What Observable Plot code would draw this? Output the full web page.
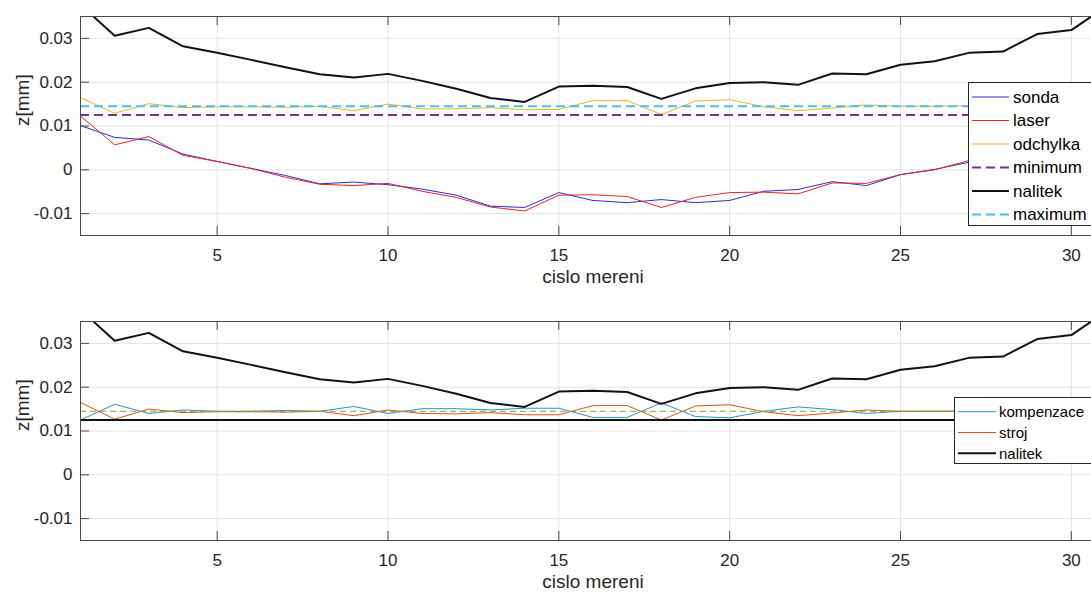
<!DOCTYPE html>
<html>
<head>
<meta charset="utf-8">
<script src="https://cdn.jsdelivr.net/npm/d3@7"></script>
<script src="https://cdn.jsdelivr.net/npm/@observablehq/plot@0.6"></script>
<style>
  html, body { margin: 0; padding: 0; background: #fff; overflow: hidden; width: 1091px; height: 592px; }
  #chart { width: 1125px; }
  #chart > svg { display: block; margin: 0; max-width: none !important; }
</style>
</head>
<body>
<div id="chart"></div>
<script>
// ---- data ----
const mereni = [1,2,3,4,5,6,7,8,9,10,11,12,13,14,15,16,17,18,19,20,21,22,23,24,25,26,27,28,29,30,31];
const sonda = [0.0101, 0.0074, 0.0068, 0.0036, 0.0019, 0.0003, -0.0013, -0.0032, -0.0028, -0.0034, -0.0044, -0.0058, -0.0083, -0.0086, -0.0052, -0.0070, -0.0075, -0.0068, -0.0075, -0.0070, -0.0049, -0.0045, -0.0027, -0.0036, -0.0011, 0.0001, 0.0017, 0.0033, 0.0050, 0.0066, 0.0080];
const laser = [0.0123, 0.0057, 0.0076, 0.0033, 0.0019, 0.0003, -0.0017, -0.0033, -0.0036, -0.0031, -0.0049, -0.0063, -0.0085, -0.0094, -0.0058, -0.0057, -0.0061, -0.0086, -0.0063, -0.0052, -0.0051, -0.0055, -0.0030, -0.0031, -0.0011, 0.0000, 0.0021, 0.0034, 0.0050, 0.0067, 0.0080];
const odchylka = [0.0165, 0.0129, 0.0151, 0.0142, 0.0144, 0.0144, 0.0143, 0.0145, 0.0135, 0.0150, 0.0139, 0.0139, 0.0142, 0.0137, 0.0138, 0.0158, 0.0158, 0.0126, 0.0157, 0.0160, 0.0144, 0.0135, 0.0141, 0.0148, 0.0145, 0.0145, 0.0146, 0.0145, 0.0145, 0.0146, 0.0145];
const nalitek = [0.0377, 0.0306, 0.0324, 0.0282, 0.0267, 0.0251, 0.0234, 0.0218, 0.0211, 0.0219, 0.0203, 0.0185, 0.0164, 0.0155, 0.0190, 0.0192, 0.0189, 0.0162, 0.0186, 0.0198, 0.0200, 0.0194, 0.0220, 0.0218, 0.0240, 0.0248, 0.0267, 0.0270, 0.0310, 0.0319, 0.0372];
const kompenzace = [0.0125, 0.0161, 0.0140, 0.0148, 0.0145, 0.0145, 0.0147, 0.0145, 0.0156, 0.0140, 0.0151, 0.0151, 0.0148, 0.0152, 0.0152, 0.0131, 0.0131, 0.0164, 0.0133, 0.0130, 0.0145, 0.0155, 0.0149, 0.0140, 0.0145, 0.0145, 0.0144, 0.0145, 0.0145, 0.0144, 0.0145];
const stroj = [0.0165, 0.0127, 0.0150, 0.0142, 0.0144, 0.0144, 0.0143, 0.0145, 0.0135, 0.0148, 0.0140, 0.0139, 0.0142, 0.0137, 0.0137, 0.0158, 0.0158, 0.0125, 0.0157, 0.0160, 0.0144, 0.0135, 0.0141, 0.0148, 0.0145, 0.0145, 0.0146, 0.0145, 0.0145, 0.0146, 0.0145];
const minimum = 0.0125;
const maximum = 0.0145;
const xTicks = [5, 10, 15, 20, 25, 30];
const yTicks = [-0.01, 0, 0.01, 0.02, 0.03];
const yTickLabels = ["-0.01", "0", "0.01", "0.02", "0.03"];
const xLabel = "cislo mereni";
const yLabel = "z[mm]";
const legendTop = ["sonda", "laser", "odchylka", "minimum", "nalitek", "maximum"];
const legendBottom = ["kompenzace", "stroj", "nalitek"];

// ---- layout ----
const W = 1125, ML = 80, MR = 20;
const FONT = "'Liberation Sans', Arial, Helvetica, sans-serif";
const TXT = "#262626";
const GRID = "#e3e3e3";
const FRAME = "#4a4a4a";
const innerW = W - ML - MR;
const innerH = 219;

function basePlot(height, marginTop, marginBottom, lineMarks) {
  return Plot.plot({
    width: W, height, marginLeft: ML, marginRight: MR, marginTop, marginBottom,
    style: {fontFamily: FONT, color: TXT, background: "#fff", overflow: "visible", maxWidth: "none"},
    x: {domain: [1, 31]},
    y: {domain: [-0.015, 0.035]},
    marks: [
      Plot.gridX(xTicks, {stroke: GRID, strokeOpacity: 1}),
      Plot.gridY(yTicks, {stroke: GRID, strokeOpacity: 1}),
      ...lineMarks,
      Plot.frame({stroke: FRAME, strokeWidth: 1}),
      Plot.tickX(xTicks, {stroke: FRAME, insetTop: innerH - 9}),
      Plot.tickX(xTicks, {stroke: FRAME, insetBottom: innerH - 9}),
      Plot.tickY(yTicks, {stroke: FRAME, insetRight: innerW - 9}),
      Plot.axisX(xTicks, {tickSize: 0, tickPadding: 13, fontSize: 17, fill: TXT, label: null}),
      Plot.axisY(yTicks, {tickSize: 0, tickPadding: 8, fontSize: 17, fill: TXT, label: null,
        tickFormat: (d) => yTickLabels[yTicks.indexOf(d)]}),
      Plot.text([xLabel], {frameAnchor: "bottom", dy: 47, fontSize: 19, fill: TXT}),
      Plot.text([yLabel], {frameAnchor: "left", dx: -58, rotate: -90, fontSize: 19, fill: TXT})
    ]
  });
}

const line = (vals, opts) => Plot.lineY(vals, {x: mereni, y: vals, clip: true, ...opts});

const topPlot = basePlot(290, 16, 55, [
  line(sonda, {stroke: "#2b2bd0", strokeWidth: 1}),
  line(laser, {stroke: "#e3242b", strokeWidth: 1}),
  line(odchylka, {stroke: "#EDB120", strokeWidth: 1}),
  Plot.ruleY([minimum], {stroke: "#7E2F8E", strokeWidth: 2, strokeDasharray: "9,5"}),
  line(nalitek, {stroke: "#111", strokeWidth: 2}),
  Plot.ruleY([maximum], {stroke: "#4DBEEE", strokeWidth: 2, strokeDasharray: "9,5"})
]);

const bottomPlot = basePlot(302, 31, 52, [
  line(kompenzace, {stroke: "#2f8fc8", strokeWidth: 1}),
  line(stroj, {stroke: "#D95319", strokeWidth: 1}),
  line(nalitek, {stroke: "#111", strokeWidth: 2}),
  Plot.ruleY([maximum], {stroke: "#77AC30", strokeWidth: 1, strokeDasharray: "6,4"}),
  Plot.ruleY([minimum], {stroke: "#111", strokeWidth: 2})
]);

function addLegend(svgNode, box, items, styles) {
  const svg = d3.select(svgNode);
  const g = svg.append("g").attr("text-anchor", "start");
  g.append("rect").attr("x", box.x).attr("y", box.y).attr("width", box.w).attr("height", box.h)
    .attr("fill", "#fff").attr("stroke", "#262626").attr("stroke-width", 1);
  items.forEach((name, i) => {
    const y = box.y0 + i * box.dy;
    const s = styles[i];
    g.append("line").attr("x1", box.lx1).attr("x2", box.lx2).attr("y1", y).attr("y2", y)
      .attr("stroke", s.stroke).attr("stroke-width", s.width)
      .attr("stroke-dasharray", s.dash || null);
    g.append("text").attr("x", box.tx).attr("y", y).attr("dy", "0.35em")
      .attr("text-anchor", "start")
      .attr("font-size", box.fs).attr("font-family", FONT).attr("fill", "#000").text(name);
  });
}

addLegend(topPlot, {x: 968.5, y: 82.5, w: 150, h: 143, y0: 97, dy: 23.5, lx1: 972, lx2: 1009, tx: 1013, fs: 17},
  legendTop, [
    {stroke: "#2b2bd0", width: 1},
    {stroke: "#e3242b", width: 1},
    {stroke: "#EDB120", width: 1},
    {stroke: "#7E2F8E", width: 2, dash: "9,5"},
    {stroke: "#111", width: 2},
    {stroke: "#4DBEEE", width: 2, dash: "9,5"}
  ]);
addLegend(bottomPlot, {x: 954.5, y: 107.5, w: 160, h: 66, y0: 121.7, dy: 20.8, lx1: 958, lx2: 996, tx: 999, fs: 15},
  legendBottom, [
    {stroke: "#2f8fc8", width: 1},
    {stroke: "#D95319", width: 1},
    {stroke: "#111", width: 2}
  ]);

document.getElementById("chart").append(topPlot, bottomPlot);
</script>
</body>
</html>
